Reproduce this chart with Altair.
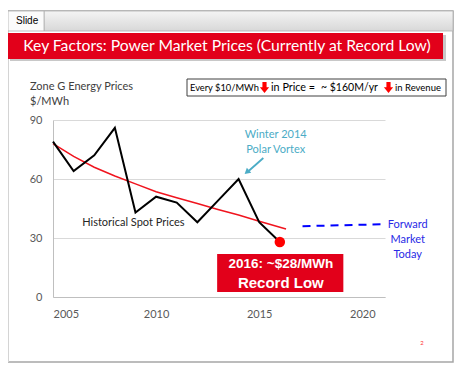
import altair as alt
import pandas as pd

# ---- data ----
years = [2005, 2006, 2007, 2008, 2009, 2010, 2011, 2012, 2013, 2014, 2015, 2016]
spot_prices = [79, 64, 72, 86, 43, 51, 48, 38, 49, 60, 38, 28]
trend_years = [2005, 2006, 2007, 2008, 2009, 2010, 2011, 2012, 2013, 2014, 2015, 2016.3]
trend_prices = [78, 71.5, 66, 61.5, 57.5, 53.5, 50.5, 47.5, 44.5, 41.7, 38.5, 34.6]
record_year = [2016]
record_price = [28]
forward_years = [2017.1, 2021.1]
forward_prices = [36, 37]
x_ticks = [2005, 2010, 2015, 2020]
y_ticks = [0, 30, 60, 90]

OX, OY = 53, 120  # plot origin on the page


def px(v):
    return v - OX


def py(v):
    return v - OY


X_SCALE = alt.Scale(domain=[2005, 2021.1], nice=False, zero=False)
Y_SCALE = alt.Scale(domain=[0, 90], nice=False)
X_AXIS = alt.Axis(values=x_ticks, format="d", grid=False, ticks=False, labelPadding=11,
                  title=None, domainColor="#bfbfbf", labelFont="Lato", labelFontSize=11,
                  labelColor="#595959")
Y_AXIS = alt.Axis(values=y_ticks, grid=True, ticks=False, labelPadding=11, title=None,
                  domainColor="#bfbfbf", gridColor="#d9d9d9", labelFont="Lato",
                  labelFontSize=11, labelColor="#595959")


def xe(f="x"):
    return alt.X(f + ":Q", scale=X_SCALE, axis=X_AXIS)


def ye(f="y"):
    return alt.Y(f + ":Q", scale=Y_SCALE, axis=Y_AXIS)


dummy = pd.DataFrame({"d": [0]})


def ptext(text, x, y, size=11, color="#404040", align="left", font="Lato", weight="normal"):
    return alt.Chart(dummy).mark_text(text=text, align=align, baseline="middle", font=font,
                                      fontSize=size, color=color, fontWeight=weight).encode(
        x=alt.value(px(x)), y=alt.value(py(y)))


def prect(x1, x2, y1, y2, fill, stroke=None, sw=1):
    kw = dict(fill=fill)
    if stroke:
        kw.update(stroke=stroke, strokeWidth=sw)
    return alt.Chart(dummy).mark_rect(**kw).encode(
        x=alt.value(px(x1)), x2=alt.value(px(x2)), y=alt.value(py(y1)), y2=alt.value(py(y2)))


ARROW_PATH = "M-0.38,-1L0.38,-1L0.38,-0.05L0.85,-0.05L0,1L-0.85,-0.05L-0.38,-0.05Z"


def parrow(cx, cy):
    return alt.Chart(dummy).mark_point(shape=ARROW_PATH, filled=True, size=120,
                                       color="#ff0000", opacity=1, strokeWidth=0).encode(
        x=alt.value(px(cx)), y=alt.value(py(cy)))


# ---- slide frame ----
frame = prect(8, 453, 11, 362, "transparent", "#a6a6a6", 1.5)
left_edge = prect(7, 9, 11, 362, "#d4d4d4")
tabbar = alt.Chart(dummy).mark_rect(
    fill=alt.LinearGradient(gradient="linear", x1=0, x2=0, y1=0, y2=1,
                            stops=[alt.GradientStop(color="#f4f4f4", offset=0),
                                   alt.GradientStop(color="#d8d8d8", offset=1)]),
    stroke="#b0b0b0", strokeWidth=0.8).encode(
    x=alt.value(px(44)), x2=alt.value(px(453)), y=alt.value(py(11)), y2=alt.value(py(31)))
tab = prect(8, 44, 11, 31, "#fbfbfb", "#b0b0b0", 0.8)
tab_text = ptext("Slide", 16, 21, size=10, color="#000000", font="Liberation Sans")

title_shadow = prect(10, 446, 35, 61, "#c8c8c8")
title_bar = prect(8, 443, 33, 59, "#e2001a")
title_text = ptext("Key Factors: Power Market Prices (Currently at Record Low)", 227, 46,
                   size=15.7, color="white", align="center")

ylab1 = ptext("Zone G Energy Prices", 30, 87, size=11)
ylab2 = ptext("$/MWh", 30, 102, size=11)

info_box = prect(187, 446, 79, 96, "white", "#404040", 1)
info1 = ptext("Every $10/MWh", 190, 88, size=9.3, color="#000000")
arrow1 = parrow(264.5, 87.5)
info2a = ptext("in Price =", 271, 88, size=10.8, color="#000000")
info2b = ptext("~ $160M/yr", 321, 88, size=10.5, color="#000000")
arrow2 = parrow(388.5, 87.5)
info3 = ptext("in Revenue", 395, 88, size=9.5, color="#000000")

page_num = ptext("2", 422, 343, size=6, color="#ff3333", align="center")

# ---- data layers ----
spot_df = pd.DataFrame({"x": years, "y": spot_prices})
trend_df = pd.DataFrame({"x": trend_years, "y": trend_prices})
rec_df = pd.DataFrame({"x": record_year, "y": record_price})
fwd_df = pd.DataFrame({"x": forward_years, "y": forward_prices})

spot = alt.Chart(spot_df).mark_line(color="black", strokeWidth=2).encode(x=xe(), y=ye())
trend = alt.Chart(trend_df).mark_line(color="#f0141e", strokeWidth=1.5).encode(x=xe(), y=ye())
fwd = alt.Chart(fwd_df).mark_line(color="#0000ff", strokeWidth=2, strokeDash=[8, 6]).encode(
    x=xe(), y=ye())
rec = alt.Chart(rec_df).mark_circle(color="#ff0000", size=110, opacity=1).encode(x=xe(), y=ye())

# annotations in data coordinates
hist_df = pd.DataFrame({"x": [2008.9], "y": [37.5], "t": ["Historical Spot Prices"]})
hist = alt.Chart(hist_df).mark_text(font="Lato", fontSize=11, color="#262626").encode(
    x=xe(), y=ye(), text="t:N")

vortex_df = pd.DataFrame({"x": [2015.8, 2015.8], "y": [82.4, 74.7],
                          "t": ["Winter 2014", "Polar Vortex"]})
vortex = alt.Chart(vortex_df).mark_text(font="Lato", fontSize=11, color="#4bacc6").encode(
    x=xe(), y=ye(), text="t:N")
arr_df = pd.DataFrame({"x": [2015.2], "x2": [2014.5], "y": [70.7], "y2": [64.2]})
arr_line = alt.Chart(arr_df).mark_rule(color="#4bacc6", strokeWidth=1.8).encode(
    x=xe(), x2="x2:Q", y=ye(), y2="y2:Q")
head_df = pd.DataFrame({"x": [2014.4], "y": [63.5]})
arr_head = alt.Chart(head_df).mark_point(shape="triangle-up", filled=True, size=45,
                                         color="#4bacc6", opacity=1, angle=229).encode(
    x=xe(), y=ye())

fwd_txt_df = pd.DataFrame({"x": [2022.2] * 3, "y": [36.6, 29.0, 21.4],
                           "t": ["Forward", "Market", "Today"]})
fwd_txt = alt.Chart(fwd_txt_df).mark_text(font="Lato", fontSize=11, color="#2a2ae6").encode(
    x=xe(), y=ye(), text="t:N")

box_df = pd.DataFrame({"x": [2012.96], "x2": [2019.08], "y": [21.9], "y2": [2.5]})
rec_box = alt.Chart(box_df).mark_rect(fill="#e2001a").encode(x=xe(), x2="x2:Q", y=ye(), y2="y2:Q")
rb1_df = pd.DataFrame({"x": [2016.05], "y": [16.8], "t": ["2016: ~$28/MWh"]})
rb1 = alt.Chart(rb1_df).mark_text(font="Liberation Sans", fontSize=13.5, fontWeight="bold",
                                  color="white").encode(x=xe(), y=ye(), text="t:N")
rb2_df = pd.DataFrame({"x": [2016.05], "y": [7.0], "t": ["Record Low"]})
rb2 = alt.Chart(rb2_df).mark_text(font="Liberation Sans", fontSize=15, fontWeight="bold",
                                  color="white").encode(x=xe(), y=ye(), text="t:N")

chart = alt.layer(
    frame, left_edge, tabbar, tab, tab_text, title_shadow, title_bar, title_text,
    ylab1, ylab2, info_box, info1, arrow1, info2a, info2b, arrow2, info3, page_num,
    trend, spot, rec, fwd, hist, vortex, arr_line, arr_head, fwd_txt, rec_box, rb1, rb2,
).properties(
    width=332, height=177,
    autosize=alt.AutoSizeParams(type="none"),
    padding={"left": 45, "top": 112, "right": 69, "bottom": 73},
    background="white",
).configure_view(stroke=None)

chart.save("out.html", embed_options={"renderer": "svg", "actions": False})
